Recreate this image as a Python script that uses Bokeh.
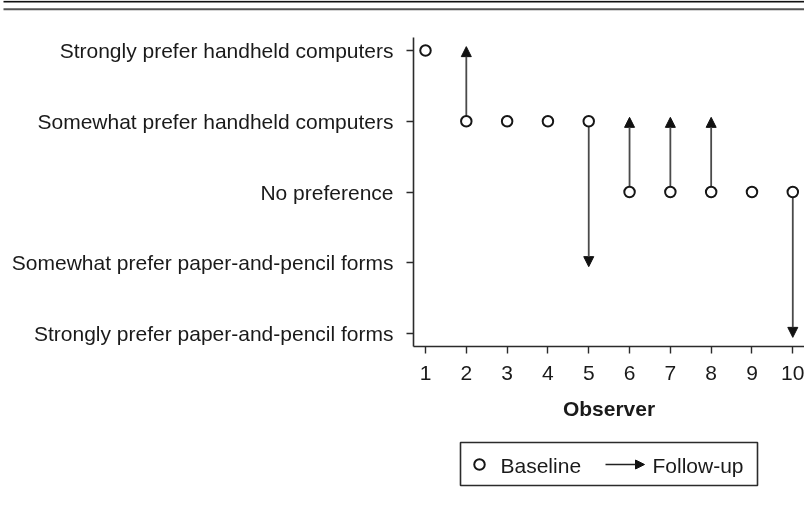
from bokeh.plotting import figure
from bokeh.models import Range1d, Arrow, NormalHead, FixedTicker
from bokeh.embed import file_html
from bokeh.resources import INLINE
from bokeh.core.properties import value

# ---- data ----
observers = [1, 2, 3, 4, 5, 6, 7, 8, 9, 10]
baseline = [5, 4, 4, 4, 4, 3, 3, 3, 3, 3]
followup = [5, 5, 4, 4, 2, 4, 4, 4, 3, 1]
pref_levels = [1, 2, 3, 4, 5]
pref_labels = [
    "Strongly prefer paper-and-pencil forms",
    "Somewhat prefer paper-and-pencil forms",
    "No preference",
    "Somewhat prefer handheld computers",
    "Strongly prefer handheld computers",
]
legend_labels = ["Baseline", "Follow-up"]
x_title = "Observer"

FONT = "Liberation Sans"
TXT = "#1a1a1a"
AX = "#2b2b2b"

def fixed_at(top, left=0):
    return {"position": "fixed", "top": f"{top}px", "left": f"{left}px"}

def bare_panel(w, h, top):
    f = figure(width=w, height=h, output_backend="svg", toolbar_location=None,
               x_range=Range1d(0, w), y_range=Range1d(h, 0),
               x_axis_type=None, y_axis_type=None,
               min_border_left=0, min_border_right=0, min_border_top=0,
               min_border_bottom=0, styles=fixed_at(top))
    f.outline_line_color = None
    f.xgrid.visible = False
    f.ygrid.visible = False
    return f

# ---- top double rule (panel above the chart) ----
rule = bare_panel(804, 37, 0)
rule.quad(left=[3], right=[804], top=[0.3], bottom=[2.0], fill_color="#111", line_color=None)
rule.quad(left=[3], right=[804], top=[7.8], bottom=[9.8], fill_color="#555", line_color=None)

# ---- main chart ----
p = figure(width=804, height=393, output_backend="svg", toolbar_location=None,
           x_range=Range1d(0.706, 10.287), y_range=Range1d(0.816, 5.184),
           min_border_left=413, min_border_right=0, min_border_top=0,
           min_border_bottom=84, styles=fixed_at(37))
p.outline_line_color = None
p.xgrid.visible = False
p.ygrid.visible = False

for ax in (p.xaxis[0], p.yaxis[0]):
    ax.axis_line_color = AX
    ax.axis_line_width = 1.6
    ax.major_tick_line_color = AX
    ax.major_tick_line_width = 1.4
    ax.major_tick_out = 7
    ax.major_tick_in = 0
    ax.minor_tick_line_color = None
    ax.major_label_text_font = FONT
    ax.major_label_text_font_size = "21px"
    ax.major_label_text_color = TXT

p.xaxis.ticker = FixedTicker(ticks=observers)
p.xaxis.major_label_standoff = 12
p.xaxis.axis_label = x_title
p.xaxis.axis_label_text_font = FONT
p.xaxis.axis_label_text_font_size = "21px"
p.xaxis.axis_label_text_font_style = "bold"
p.xaxis.axis_label_text_color = TXT
p.xaxis.axis_label_standoff = 14

p.yaxis.ticker = FixedTicker(ticks=pref_levels)
p.yaxis.major_label_overrides = {lv: lab for lv, lab in zip(pref_levels, pref_labels)}
p.yaxis.major_label_standoff = 13

# arrows from baseline to follow-up
OVERSHOOT = 0.055
for o, b, f in zip(observers, baseline, followup):
    if f != b:
        s = 1 if f > b else -1
        p.add_layout(Arrow(
            x_start=o, y_start=b, x_end=o, y_end=f + s * OVERSHOOT,
            line_color="#4a4a4a", line_width=1.8, level="underlay",
            end=NormalHead(size=10, fill_color="#111", line_color="#111", line_width=1),
        ))

p.scatter(observers, baseline, marker="circle", size=10.5, fill_color="white",
          line_color="#161616", line_width=2)

# ---- legend (separate panel) ----
lg = bare_panel(804, 75, 430)
lg.quad(left=[460], right=[757], top=[12], bottom=[55], fill_color="white",
        line_color=AX, line_width=1.6)
lg.scatter([479], [34], marker="circle", size=10.5, fill_color="white",
           line_color="#161616", line_width=2)
lg.text([500], [35], text=[legend_labels[0]], text_font=value(FONT),
        text_font_size="21px", text_color=TXT, text_baseline="middle", text_align="left")
lg.add_layout(Arrow(x_start=605, y_start=34, x_end=644, y_end=34,
                    line_color="#222", line_width=1.6,
                    end=NormalHead(size=9, fill_color="#111", line_color="#111", line_width=1)))
lg.text([652], [35], text=[legend_labels[1]], text_font=value(FONT),
        text_font_size="21px", text_color=TXT, text_baseline="middle", text_align="left")

open("out.html", "w").write(file_html([rule, p, lg], INLINE))
